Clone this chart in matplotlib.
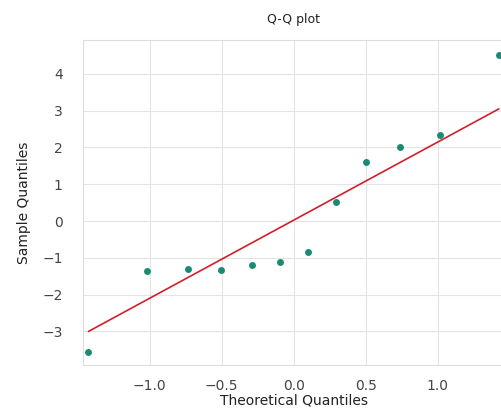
import numpy as np
import matplotlib
matplotlib.use("Agg")
import matplotlib.pyplot as plt
import seaborn as sns

# theoretical normal quantiles (n = 12) and the sorted sample values
theoretical = [-1.426, -1.020, -0.736, -0.502, -0.293, -0.097,
               0.097, 0.293, 0.502, 0.736, 1.020, 1.426]
sample = [-3.56, -1.36, -1.30, -1.33, -1.20, -1.11,
          -0.84, 0.52, 1.60, 2.01, 2.34, 4.51]

x_ticks = [-1.0, -0.5, 0.0, 0.5, 1.0]
y_ticks = [-3, -2, -1, 0, 1, 2, 3, 4]

sns.set_style("whitegrid", {"grid.color": "#e4e4e4", "axes.edgecolor": "#dddddd"})
plt.rcParams['font.family'] = ['DejaVu Sans']

fig = plt.figure(figsize=(5.02, 4.09), dpi=100)
ax = fig.add_axes([0.165, 0.108, 0.84, 0.794])

# standardized line: slope = std, intercept = mean of sample
slope = np.std(sample)
intercept = np.mean(sample)
xl = np.array([min(theoretical), max(theoretical)])
ax.plot(xl, intercept + slope * xl, color="#d0202a", linewidth=1.2, zorder=2)

ax.plot(theoretical, sample, "o", color="#1b8a74", markersize=5,
        markeredgewidth=0, zorder=3)

ax.set_xlim(-1.465, 1.465)
ax.set_ylim(-3.91, 4.92)
ax.set_xticks(x_ticks)
ax.set_yticks(y_ticks)
ax.tick_params(labelsize=10, colors="#444444")
ax.tick_params(axis="y", pad=11)
ax.tick_params(axis="x", pad=7)
ax.set_xlabel("Theoretical Quantiles", fontsize=10, labelpad=0, color="#222222")
ax.set_ylabel("Sample Quantiles", fontsize=10, labelpad=8, color="#222222")
ax.set_title("Q-Q plot", fontsize=9, pad=12, color="#222222")

fig.savefig("out.png", dpi=100)
